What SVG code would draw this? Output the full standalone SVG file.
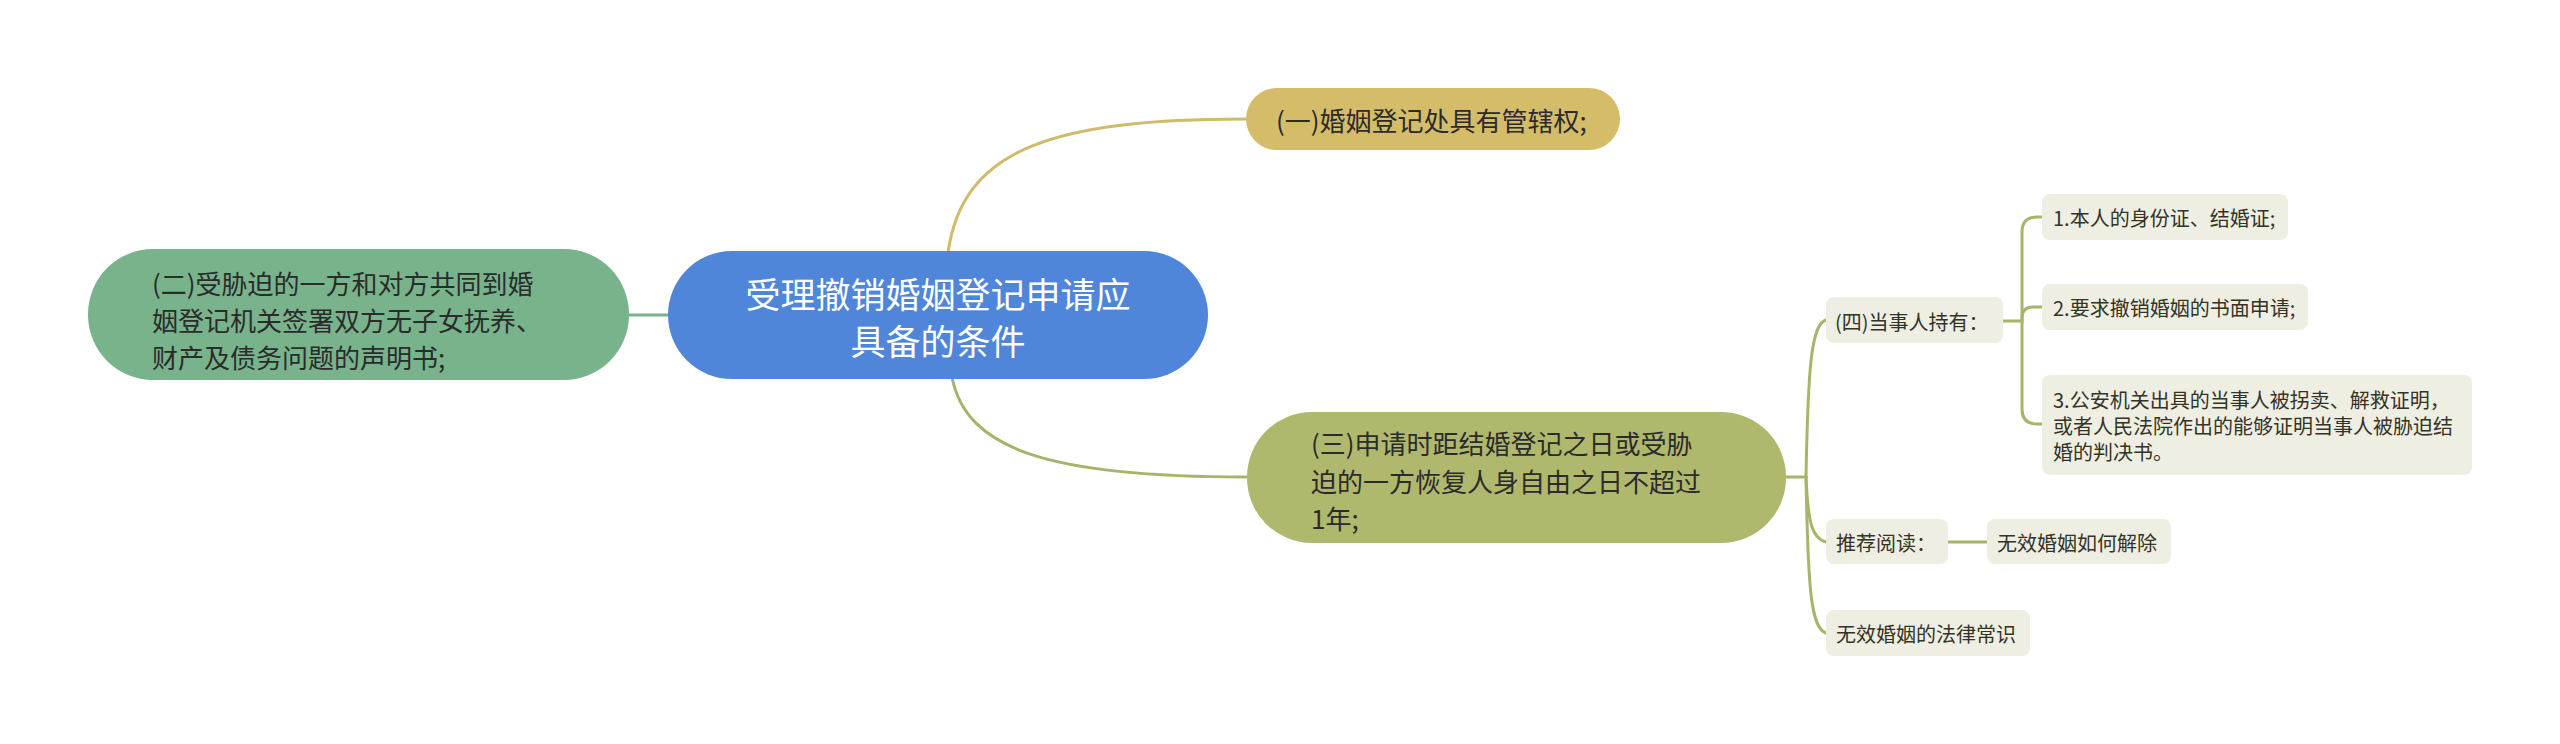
<svg xmlns="http://www.w3.org/2000/svg" width="2560" height="744" viewBox="0 0 2560 744">
<style>
  .t { font-family: "Noto Sans CJK SC", "Noto Sans", sans-serif; dominant-baseline: central; }
  .center-t { font-size: 35px; fill: #ffffff; text-anchor: middle; }
  .l1-t { font-size: 26px; fill: #2b2b2b; }
  .leaf-t { font-size: 20px; fill: #333326; }
  .leaf { fill: #eeeee2; }
  .conn { fill: none; stroke-width: 3; stroke-linecap: round; }
</style>
<rect width="2560" height="744" fill="#ffffff"/>
<g id="connectors">
  <path class="conn" stroke="#d0bb6a" d="M 948 253 C 962 150, 1050 119, 1246 119"/>
  <path class="conn" stroke="#a9b268" d="M 952 377 C 966 450, 1050 477, 1247 477"/>
  <path class="conn" stroke="#77b28b" d="M 629 315 L 668 315"/>
  <path class="conn" stroke="#a9b46a" d="M 1786 477 L 1806 477"/>
  <path class="conn" stroke="#a9b46a" d="M 1806 477 C 1808 370, 1811 324, 1826 320"/>
  <path class="conn" stroke="#a9b46a" d="M 1806 477 C 1808 520, 1811 538, 1826 542"/>
  <path class="conn" stroke="#a9b46a" d="M 1806 477 C 1808 590, 1811 628, 1826 633"/>
  <path class="conn" stroke="#a9b46a" d="M 2003 321 L 2022 321 L 2022 232 Q 2022 217 2037 217 L 2042 217"/>
  <path class="conn" stroke="#a9b46a" d="M 2022 321 L 2022 318 Q 2022 307 2033 307 L 2042 307"/>
  <path class="conn" stroke="#a9b46a" d="M 2022 321 L 2022 409 Q 2022 424 2037 424 L 2042 424"/>
  <path class="conn" stroke="#a9b46a" d="M 1948 542 L 1987 542"/>
</g>
<g id="center">
  <rect x="668" y="251" width="540" height="128" rx="64" fill="#4f86da"/>
  <text class="t center-t" x="938" y="292">受理撤销婚姻登记申请应</text>
  <text class="t center-t" x="938" y="339">具备的条件</text>
</g>
<g id="n1">
  <rect x="1246" y="88" width="374" height="62" rx="31" fill="#d5bc69"/>
  <text class="t l1-t" x="1276" y="119">(一)婚姻登记处具有管辖权;</text>
</g>
<g id="n2">
  <rect x="88" y="249" width="541" height="131" rx="65" fill="#78b38c"/>
  <text class="t l1-t" x="152" y="282">(二)受胁迫的一方和对方共同到婚</text>
  <text class="t l1-t" x="152" y="319">姻登记机关签署双方无子女抚养、</text>
  <text class="t l1-t" x="152" y="356">财产及债务问题的声明书;</text>
</g>
<g id="n3">
  <rect x="1247" y="412" width="539" height="131" rx="65" fill="#afb86d"/>
  <text class="t l1-t" x="1311" y="442">(三)申请时距结婚登记之日或受胁</text>
  <text class="t l1-t" x="1311" y="480">迫的一方恢复人身自由之日不超过</text>
  <text class="t l1-t" x="1311" y="517">1年;</text>
</g>
<g id="n4">
  <rect class="leaf" x="1826" y="297" width="177" height="46" rx="8"/>
  <text class="t leaf-t" x="1835" y="321">(四)当事人持有：</text>
</g>
<g id="n4-1">
  <rect class="leaf" x="2042" y="194" width="246" height="46" rx="8"/>
  <text class="t leaf-t" x="2053" y="217">1.本人的身份证、结婚证;</text>
</g>
<g id="n4-2">
  <rect class="leaf" x="2042" y="284" width="266" height="46" rx="8"/>
  <text class="t leaf-t" x="2053" y="307">2.要求撤销婚姻的书面申请;</text>
</g>
<g id="n4-3">
  <rect class="leaf" x="2042" y="375" width="430" height="100" rx="8"/>
  <text class="t leaf-t" x="2053" y="399">3.公安机关出具的当事人被拐卖、解救证明，</text>
  <text class="t leaf-t" x="2053" y="425">或者人民法院作出的能够证明当事人被胁迫结</text>
  <text class="t leaf-t" x="2053" y="451">婚的判决书。</text>
</g>
<g id="n5">
  <rect class="leaf" x="1826" y="519" width="122" height="45" rx="8"/>
  <text class="t leaf-t" x="1836" y="542">推荐阅读：</text>
</g>
<g id="n5-1">
  <rect class="leaf" x="1987" y="519" width="184" height="45" rx="8"/>
  <text class="t leaf-t" x="1997" y="542">无效婚姻如何解除</text>
</g>
<g id="n6">
  <rect class="leaf" x="1826" y="610" width="204" height="46" rx="8"/>
  <text class="t leaf-t" x="1836" y="633">无效婚姻的法律常识</text>
</g>
</svg>
